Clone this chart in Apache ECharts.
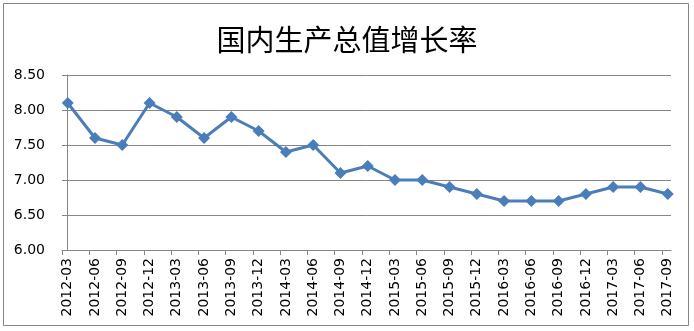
<!DOCTYPE html>
<html><head><meta charset="utf-8">
<script src="https://cdn.jsdelivr.net/npm/echarts@6/dist/echarts.min.js"></script>
<style>html,body{margin:0;padding:0;background:#fff}#c{width:694px;height:331px}</style>
</head><body><div id="c"></div>
<script>
const titleText = '国内生产总值增长率';
const categories = ['2012-03','2012-06','2012-09','2012-12','2013-03','2013-06','2013-09','2013-12','2014-03','2014-06','2014-09','2014-12','2015-03','2015-06','2015-09','2015-12','2016-03','2016-06','2016-09','2016-12','2017-03','2017-06','2017-09'];
const growth = [8.1,7.6,7.5,8.1,7.9,7.6,7.9,7.7,7.4,7.5,7.1,7.2,7.0,7.0,6.9,6.8,6.7,6.7,6.7,6.8,6.9,6.9,6.8];
const yTicks = [6.0,6.5,7.0,7.5,8.0,8.5];

const chart = echarts.init(document.getElementById('c'), null, {renderer:'canvas'});
const tickShift = 0.21;
chart.setOption({
  animation:false,
  backgroundColor:'#fff',
  graphic:[{type:'rect',shape:{x:3.5,y:3.5,width:685,height:322},style:{fill:'none',stroke:'#868686',lineWidth:1},silent:true}],
  title:{text:titleText,left:'center',top:20,textStyle:{fontFamily:'Noto Sans CJK SC',fontSize:29,fontWeight:'normal',color:'#000'}},
  grid:{left:62,right:23,top:75,bottom:81,containLabel:false},
  xAxis:{type:'value',min:-tickShift,max:categories.length-1+0.12,
    axisLine:{show:true,lineStyle:{color:'#868686',width:1}},
    axisTick:{show:true,length:5,lineStyle:{color:'#868686'},customValues:categories.map((c,i)=>i-tickShift)},
    axisLabel:{show:true,rotate:90,margin:8,fontFamily:'DejaVu Sans',fontSize:14,color:'#000',
      customValues:categories.map((c,i)=>i),formatter:v=>categories[Math.round(v)]},
    splitLine:{show:false}},
  yAxis:{type:'value',min:yTicks[0],max:yTicks[yTicks.length-1],interval:0.5,
    axisLine:{show:true,lineStyle:{color:'#868686',width:1}},
    axisTick:{show:true,length:5,lineStyle:{color:'#868686'}},
    axisLabel:{margin:17,fontFamily:'DejaVu Sans',fontSize:14,color:'#000',formatter:v=>v.toFixed(2)},
    splitLine:{show:true,lineStyle:{color:'#868686',width:1}}},
  series:[{type:'line',data:growth.map((v,i)=>[i,v]),
    lineStyle:{color:'#4A7EBB',width:3},itemStyle:{color:'#4A7EBB'},
    symbol:'diamond',symbolSize:12,showSymbol:true}]
});
</script></body></html>
